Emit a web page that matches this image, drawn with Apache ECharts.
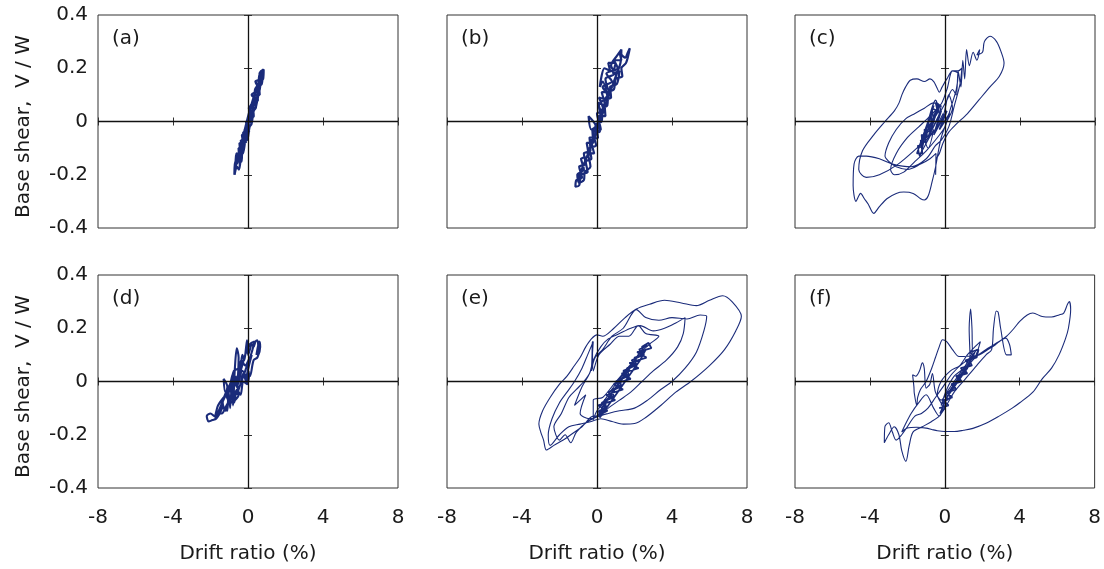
<!DOCTYPE html>
<html><head><meta charset="utf-8">
<script src="https://cdn.jsdelivr.net/npm/echarts@6/dist/echarts.min.js"></script>
<style>html,body{margin:0;padding:0;background:#fff}#c{width:1104px;height:569px}</style>
</head><body><div id="c"></div><script>
// Drift ratio (%) vs Base shear V/W
const xTicks = [-8, -4, 0, 4, 8];
const yTicks = [-0.4, -0.2, 0, 0.2, 0.4];
const panelLabels = ['(a)', '(b)', '(c)', '(d)', '(e)', '(f)'];
const xName = 'Drift ratio (%)';
const yName = 'Base shear,  V / W';

const dataA = [
[0,0],[0.25,0.03],[0.05,0.05],[0.45,0.08],[0.2,0.1],[0.6,0.12],[0.4,0.15],[0.75,0.16],[0.62,0.18],[0.83,0.195],[0.8,0.16],[0.58,0.15],[0.62,0.1],[0.35,0.1],[0.42,0.05],[0.12,0.05],[0.2,0.0],[-0.1,0.0],[-0.02,-0.05],[-0.32,-0.05],[-0.22,-0.1],[-0.5,-0.1],[-0.45,-0.15],[-0.68,-0.15],[-0.72,-0.2],[-0.6,-0.17],[-0.48,-0.18],[-0.35,-0.12],[-0.28,-0.12],[-0.12,-0.07],[-0.05,-0.07],[0.08,-0.02],[0.18,-0.01],[0.3,0.04],[0.4,0.05],[0.55,0.1],[0.62,0.12],[0.7,0.16],[0.78,0.18],[0.72,0.14],[0.5,0.13],[0.52,0.08],[0.25,0.07],[0.3,0.02],[0.02,0.01],[0.05,-0.04],[-0.25,-0.04],[-0.2,-0.09],[-0.45,-0.08],[-0.4,-0.13],[-0.62,-0.12],[-0.66,-0.17],[-0.5,-0.14],[-0.35,-0.15],[-0.3,-0.08],[-0.1,-0.06],[-0.08,-0.01],[0.12,0.0],[0.15,0.06],[0.32,0.07],[0.38,0.12],[0.55,0.14],[0.6,0.17],[0.7,0.19],[0.75,0.15],[0.6,0.14],[0.48,0.09],[0.3,0.08],[0.25,0.03],[0.05,0.02],[0.0,-0.03],[-0.18,-0.03],[-0.12,-0.08],[-0.38,-0.07],[-0.3,-0.12],[-0.55,-0.12],[-0.58,-0.16],[-0.45,-0.11],[-0.2,-0.04],[0.05,0.03],[0.3,0.09]
];
const dataB = [
[0,0],[0.3,0.02],[0.1,0.06],[0.55,0.1],[0.3,0.13],[0.8,0.15],[0.5,0.18],[1.1,0.2],[0.9,0.23],[1.3,0.23],[1.2,0.26],[1.5,0.24],[1.65,0.26],[1.75,0.275],[1.55,0.22],[1.3,0.2],[1.35,0.17],[1.0,0.16],[0.9,0.12],[0.6,0.11],[0.55,0.06],[0.3,0.05],[0.25,0.0],[-0.05,-0.01],[-0.1,-0.06],[-0.4,-0.06],[-0.35,-0.11],[-0.7,-0.12],[-0.6,-0.16],[-0.95,-0.17],[-0.8,-0.21],[-1.1,-0.22],[-1.15,-0.245],[-0.95,-0.24],[-0.85,-0.2],[-0.5,-0.19],[-0.6,-0.15],[-0.3,-0.14],[-0.4,-0.1],[-0.05,-0.09],[-0.2,-0.04],[0.2,-0.03],[0.0,0.03],[0.35,0.04],[0.1,0.09],[0.6,0.08],[0.3,0.15],[0.15,0.13],[0.4,0.2],[0.7,0.19],[0.6,0.22],[1.0,0.22],[0.85,0.18],[1.2,0.19],[1.05,0.14],[0.7,0.13],[0.75,0.09],[0.4,0.08],[0.45,0.02],[0.1,0.02],[0.15,-0.04],[-0.25,-0.03],[-0.2,-0.08],[-0.55,-0.08],[-0.45,-0.13],[-0.85,-0.14],[-0.7,-0.18],[-1.05,-0.2],[-0.95,-0.23],[-0.7,-0.22],[-0.65,-0.19],[-0.35,-0.17],[-0.5,-0.12],[-0.15,-0.12],[-0.3,-0.07],[0.05,-0.06],[-0.1,-0.01],[-0.45,0.02],[-0.3,-0.03],[0.2,0.01],[0.05,0.07],[0.45,0.06],[0.25,0.11],[0.65,0.11],[0.45,0.16],[0.95,0.18],[0.75,0.21],[1.1,0.25],[1.3,0.27],[1.25,0.22],[0.9,0.15],[0.5,0.07],[0.1,-0.01],[-0.3,-0.09],[-0.7,-0.16],[-1.0,-0.21]
];
const dataCcore = [
[0,0],[0.25,0.03],[-0.3,-0.03],[0.1,0.04],[-0.6,-0.05],[-0.2,0.04],[-0.9,-0.06],[-0.4,0.05],[-1.2,-0.08],[-0.6,0.06],[-1.4,-0.1],[-0.8,0.02],[-1.5,-0.12],[-1.2,-0.12],[-1.3,-0.07],[-1.0,-0.08],[-1.1,-0.03],[-0.8,-0.04],[-0.9,0.01],[-0.6,0.0],[-0.7,0.05],[-0.4,0.04],[-0.5,0.07],[-0.3,0.06],[-0.55,0.02],[-0.75,0.03],[-0.7,-0.02],[-1.0,-0.02],[-0.95,-0.06],[-1.25,-0.05],[-1.2,-0.1],[-1.45,-0.09],[-1.35,-0.13],[-1.0,-0.03],[-0.5,0.08],[-0.3,0.03]
];
const dataC = [
[-0.3,0.03],[0.1,0.08],[0.4,0.12],[0.6,0.1],[0.7,0.19],[0.85,0.13],[0.95,0.23],[1.05,0.16],[1.15,0.27],[1.3,0.21],[1.5,0.26],[1.7,0.23],[1.85,0.27],[1.7,0.25],[2.0,0.26],[2.1,0.3],[2.4,0.32],[2.75,0.3],[3.0,0.26],[3.15,0.22],[2.9,0.17],[2.4,0.13],[1.8,0.08],[1.2,0.03],[0.6,-0.01],[0.2,-0.04],[-0.1,-0.08],[-0.3,-0.12],[-0.45,-0.14],[-0.5,-0.2],[-0.48,-0.12],
[-0.8,-0.14],[-1.3,-0.16],[-2.0,-0.18],[-2.6,-0.17],[-3.0,-0.15],[-3.2,-0.13],[-3.0,-0.08],[-2.6,-0.03],[-2.1,0.01],[-1.6,0.03],[-1.1,0.05],[-0.6,0.07],[-0.3,0.06],[0.1,0.12],[0.4,0.19],[0.7,0.19],[0.9,0.2],[0.8,0.14],[0.5,0.06],[0.2,-0.02],[-0.2,-0.07],[-0.5,-0.09],
[-1.0,-0.14],[-1.8,-0.17],[-2.8,-0.16],[-3.5,-0.14],[-4.2,-0.13],[-4.6,-0.13],[-4.85,-0.16],[-4.9,-0.24],[-4.75,-0.3],[-4.5,-0.27],[-4.3,-0.29],[-4.1,-0.31],[-3.8,-0.345],[-3.5,-0.32],[-3.1,-0.29],[-2.6,-0.27],[-2.2,-0.265],[-1.7,-0.27],[-1.3,-0.29],[-1.1,-0.295],[-0.9,-0.28],[-0.7,-0.23],[-0.5,-0.17],[-0.35,-0.11],[-0.2,-0.06],[0.1,0.0],[0.4,0.05],[0.2,0.1],
[-0.1,0.02],[-0.6,-0.04],[-1.5,-0.1],[-2.5,-0.16],[-3.5,-0.2],[-4.2,-0.21],[-4.6,-0.18],[-4.4,-0.11],[-3.8,-0.05],[-3.2,0.0],[-2.7,0.04],[-2.45,0.07],[-2.3,0.1],[-2.1,0.13],[-1.85,0.155],[-1.5,0.16],[-1.1,0.15],[-0.8,0.16],[-0.6,0.15],[-0.45,0.13],[-0.3,0.11],[-0.15,0.13],[0.1,0.16],[0.4,0.19],[0.7,0.18],[0.6,0.12],[0.3,0.05],
[0,-0.02],[-0.4,-0.06],[-1.0,-0.11],[-1.6,-0.15],[-2.2,-0.19],[-2.7,-0.2],[-2.9,-0.18],[-2.6,-0.12],[-2.0,-0.06],[-1.4,-0.02],[-0.8,0.02],[-0.4,0.05],[-0.7,-0.02],[-1.1,-0.06],[-0.9,-0.1],[-0.6,-0.03],[-1.3,-0.12],[-0.8,-0.05],[-0.5,0.04],[-0.2,0.06],[-0.45,-0.02],[-0.1,0.03]
];
const dataD = [
[0,0],[-0.3,0.04],[-0.6,-0.02],[-0.8,0.03],[-1.0,-0.04],[-0.7,0.02],[-0.5,-0.05],[-0.95,-0.08],[-1.2,-0.05],[-1.45,-0.11],[-1.3,-0.06],[-1.6,-0.09],[-1.8,-0.13],[-2.0,-0.12],[-2.2,-0.13],[-2.1,-0.15],[-1.9,-0.145],[-1.7,-0.14],[-1.5,-0.12],[-1.35,-0.1],[-1.1,-0.11],[-1.05,-0.03],[-0.95,-0.1],[-0.85,0.02],[-0.8,-0.09],[-0.7,0.05],[-0.6,0.125],[-0.5,0.09],[-0.55,0.0],[-0.4,0.05],[-0.3,0.1],[-0.2,0.08],[-0.1,0.13],[-0.05,0.155],[0.0,0.1],[0.1,0.12],[0.2,0.14],[0.3,0.13],[0.4,0.15],[0.5,0.155],[0.55,0.12],[0.45,0.1],[0.6,0.15],[0.65,0.13],[0.5,0.09],[0.3,0.08],[0.1,0.02],[0.0,0.03],[-0.05,-0.01],[-0.25,0.0],[-0.4,-0.05],[-0.6,-0.03],[-0.75,-0.08],[-1.0,-0.07],[-1.2,-0.11],[-1.35,-0.08],[-1.1,-0.02],[-1.3,0.01],[-1.2,-0.04],[-0.9,0.0],[-0.75,0.04],[-0.5,0.05],[-0.35,0.08],[-0.15,0.06],[0.1,0.09],[0.2,0.1],[0.05,0.06],[-0.1,0.01],[0.0,0.04],[0.05,0.02],[-0.05,-0.01],[-0.25,0.03],[-0.45,-0.02],[-0.7,-0.04],[-0.9,-0.06],[-1.15,-0.09],[-1.4,-0.12],[-1.6,-0.12],[-1.75,-0.14],[-1.5,-0.1],[-1.25,-0.06],[-0.95,-0.02],[-0.65,0.01],[-0.4,0.04],[-0.15,0.1],[0.1,0.14],[0.35,0.15],[0.2,0.11],[-0.1,0.05],[-0.35,0.0],[-0.6,-0.05]
];
const dataEcore = [
[0.0,-0.13],[0.56,-0.11],[0.06,-0.09],[0.97,-0.07],[0.48,-0.05],[1.39,-0.03],[0.9,-0.01],[1.8,0.01],[1.31,0.03],[2.22,0.05],[1.73,0.07],[2.64,0.09],[2.14,0.11],[2.9,0.125],[2.75,0.145],
[2.4,0.13],[2.5,0.1],[2.0,0.09],[2.1,0.06],[1.6,0.05],[1.7,0.02],[1.2,0.01],[1.3,-0.02],[0.8,-0.03],[0.9,-0.06],[0.4,-0.07],[0.5,-0.1],[0.1,-0.11],[0.15,-0.135],
[0.3,-0.12],[0.7,-0.08],[1.1,-0.04],[1.5,0.0],[1.9,0.04],[2.3,0.08],[2.6,0.12],[2.3,0.11],[1.95,0.07],[1.55,0.03],[1.15,-0.01],[0.75,-0.05],[0.35,-0.09],[0.05,-0.13],
[0.45,-0.1],[0.25,-0.08],[0.85,-0.06],[0.6,-0.04],[1.25,-0.02],[1.0,0.0],[1.65,0.02],[1.4,0.04],[2.05,0.06],[1.85,0.08],[2.45,0.1],[2.25,0.12],[2.7,0.135]
];
const dataE = [
[0.05,-0.13],[-0.2,-0.13],[-0.8,-0.17],[-1.4,-0.2],[-1.8,-0.22],[-2.3,-0.24],[-2.7,-0.257],[-2.85,-0.22],[-3.0,-0.19],[-3.1,-0.16],[-2.9,-0.11],[-2.5,-0.06],[-2.0,-0.01],[-1.6,0.02],[-1.2,0.06],[-0.9,0.09],[-0.6,0.13],[-0.3,0.16],[0.0,0.175],[0.3,0.17],
[0.9,0.2],[1.5,0.24],[2.1,0.272],[2.8,0.29],[3.6,0.305],[4.5,0.295],[5.3,0.285],[6.0,0.305],[6.7,0.322],[7.2,0.3],[7.7,0.245],[7.4,0.19],[6.8,0.12],[6.0,0.06],[5.0,0.0],[4.2,-0.04],[3.4,-0.09],[2.6,-0.135],[2.0,-0.158],[1.4,-0.16],[0.8,-0.15],[0.2,-0.14],[-0.3,-0.15],
[-0.9,-0.16],[-1.5,-0.17],[-2.0,-0.2],[-2.5,-0.24],[-2.6,-0.2],[-2.4,-0.14],[-2.0,-0.08],[-1.6,-0.04],[-1.2,0.0],[-0.8,0.05],[-0.5,0.1],[-0.2,0.15],[-0.3,0.04],[-0.1,0.09],[0.3,0.12],
[0.8,0.17],[1.4,0.2],[2.1,0.27],[2.6,0.24],[3.3,0.23],[4.0,0.24],[4.8,0.235],[5.5,0.25],[5.85,0.245],[5.7,0.19],[5.3,0.11],[4.7,0.05],[4.0,0.0],[3.4,-0.03],[2.7,-0.07],[2.0,-0.1],[1.2,-0.11],[0.6,-0.12],[0.1,-0.13],
[-0.5,-0.15],[-1.1,-0.19],[-1.4,-0.23],[-1.7,-0.2],[-2.0,-0.22],[-2.3,-0.17],[-1.9,-0.12],[-1.5,-0.06],[-1.1,-0.03],[-0.7,0.0],[-0.4,0.03],[-0.2,0.08],[0.2,0.13],[0.6,0.16],
[1.2,0.18],[1.8,0.2],[2.3,0.21],[3.0,0.19],[3.6,0.2],[4.2,0.22],[4.7,0.24],[4.6,0.18],[4.3,0.13],[3.7,0.08],[3.0,0.04],[2.4,0.0],[1.8,-0.04],[1.2,-0.07],[0.6,-0.1],[0.1,-0.13],
[-0.4,-0.14],[-0.9,-0.12],[-0.6,-0.05],[-1.2,-0.09],[-0.8,-0.02],[-0.3,0.05],[-0.25,0.15],[-0.2,0.04],[0.1,0.1],[0.7,0.14],[1.2,0.17],[1.7,0.17],[2.2,0.21],[2.6,0.18],[3.3,0.17],[2.8,0.14],[2.2,0.1],[1.6,0.04],[1.0,-0.02],[0.5,-0.07],[0.0,-0.11],[-0.2,-0.144],[-0.2,-0.07],[0.3,-0.06],[0.9,-0.01],[1.5,0.04],[2.1,0.09],[2.6,0.14],[1.8,0.06],[1.2,0.01],[0.6,-0.05],[0.1,-0.1]
];
const dataFcore = [
[-0.3,-0.1],[0.2,-0.09],[-0.1,-0.07],[0.4,-0.06],[0.1,-0.04],[0.6,-0.03],[0.35,-0.01],[0.85,0.0],[0.6,0.02],[1.1,0.03],[0.85,0.05],[1.35,0.06],[1.1,0.08],[1.6,0.09],[1.35,0.11],[1.8,0.12],[1.7,0.09],[1.3,0.08],[1.45,0.06],[1.0,0.05],[1.2,0.03],[0.7,0.02],[0.9,0.0],[0.45,-0.01],[0.6,-0.03],[0.15,-0.04],[0.3,-0.06],[-0.1,-0.08],[0.0,-0.1],[-0.25,-0.12],
[0.1,-0.06],[0.5,-0.01],[0.9,0.03],[1.3,0.07],[1.6,0.11],[1.2,0.05],[0.8,0.01],[0.4,-0.03],[0.0,-0.07]
];
const dataF = [
[0.9,0.03],[1.35,0.08],[1.3,0.2],[1.38,0.272],[1.45,0.2],[1.5,0.1],[1.7,0.12],[1.2,0.07],[0.7,0.02],[0.2,-0.03],[-0.2,-0.07],
[-0.5,-0.04],[-0.66,0.03],[-0.8,-0.01],[-1.0,-0.025],[-1.1,0.05],[-1.2,0.07],[-1.35,0.04],[-1.55,0.02],[-1.72,0.025],[-1.65,-0.02],[-1.63,-0.044],[-1.5,-0.09],[-1.45,-0.06],[-1.3,-0.03],[-1.0,0.0],[-0.7,0.05],[-0.5,0.09],[-0.3,0.13],[-0.12,0.157],[0.1,0.15],[0.41,0.12],[0.76,0.094],[1.2,0.095],[1.83,0.1],[2.3,0.12],[2.7,0.138],[3.0,0.155],[3.25,0.163],[3.45,0.14],[3.55,0.1],[3.3,0.1],[2.98,0.2],[2.85,0.26],[2.75,0.265],[2.6,0.2],[2.5,0.12],[2.2,0.1],[1.7,0.06],[1.1,0.01],[0.5,-0.04],[0.0,-0.1],[-0.3,-0.13],
[-0.7,-0.15],[-1.2,-0.17],[-1.7,-0.19],[-1.9,-0.24],[-2.08,-0.3],[-2.3,-0.26],[-2.45,-0.2],[-2.7,-0.17],[-3.0,-0.2],[-3.23,-0.23],[-3.2,-0.17],[-3.0,-0.155],[-2.8,-0.19],[-2.6,-0.22],[-2.3,-0.2],[-2.0,-0.17],[-1.6,-0.13],[-1.25,-0.12],[-0.9,-0.1],
[-0.5,-0.06],[-0.1,-0.02],[0.4,0.03],[1.0,0.07],[1.65,0.094],[2.3,0.125],[2.9,0.15],[3.3,0.17],[3.7,0.2],[4.0,0.226],[4.4,0.25],[4.7,0.257],[5.2,0.244],[5.7,0.242],[6.1,0.25],[6.35,0.257],[6.55,0.29],[6.65,0.3],[6.72,0.27],[6.6,0.2],[6.44,0.16],[6.1,0.1],[5.7,0.05],[5.2,0.01],[4.7,-0.04],[4.0,-0.08],[3.6,-0.1],[2.9,-0.13],[2.2,-0.157],[1.5,-0.176],[1.0,-0.183],[0.5,-0.188],[0.0,-0.188],[-0.4,-0.185],[-0.7,-0.18],[-1.0,-0.175],[-1.5,-0.172],[-2.0,-0.175],[-2.3,-0.19],
[-2.1,-0.16],[-1.8,-0.12],[-1.4,-0.08],[-1.0,-0.05],[-0.6,-0.1],[-0.3,-0.13],[-0.1,-0.1],[-0.4,-0.05],[-0.2,0.0],[0.3,0.04],[0.8,0.06],[1.2,0.1],[1.6,0.13],[1.9,0.15],[1.6,0.09],[1.1,0.05],[0.6,0.0],[0.2,-0.05],[-0.2,-0.09],[0.1,-0.03],[0.5,0.02],[1.0,0.05],[1.4,0.1],[0.9,0.03],[0.4,-0.02],[0,-0.06]
];

// per panel: list of [data, lineWidth, smooth]
const panelSeries = [
  [[dataA, 2.4, 0.3]],
  [[dataB, 2.2, 0.3]],
  [[dataC, 1.1, 0.3], [dataCcore, 1.6, 0.3]],
  [[dataD, 2.1, 0.3]],
  [[dataE, 1.1, 0.3], [dataEcore, 1.8, false]],
  [[dataF, 1.1, 0.3], [dataFcore, 1.7, false]]
];

const FONT = 'DejaVu Sans';
const TXT = '#1a1a1a';
const LINE = '#1a2b7a';
const pos = [[98,15],[447,15],[795,15],[98,275],[447,275],[795,275]];
const W = 300, H = 213;

const grid = [], xAxis = [], yAxis = [], series = [], graphic = [];
panelSeries.forEach((list, i) => {
  const [l, t] = pos[i];
  const row = Math.floor(i / 3), col = i % 3;
  grid.push({left: l, top: t, width: W, height: H, show: true, borderColor: '#333', borderWidth: 1});
  const tick = {show: true, inside: true, length: 4, lineStyle: {color: '#333', width: 1}};
  const xBase = {type: 'value', gridIndex: i, min: xTicks[0], max: xTicks[xTicks.length-1], interval: 4,
    axisLine: {show: false}, axisTick: tick, splitLine: {show: false}};
  const yBase = {type: 'value', gridIndex: i, min: yTicks[0], max: yTicks[yTicks.length-1], interval: 0.2,
    axisLine: {show: false}, axisTick: tick, splitLine: {show: false}};
  xAxis.push(Object.assign({}, xBase, {position: 'bottom',
    axisLabel: {show: row === 1, fontSize: 20, fontFamily: FONT, color: TXT, margin: 20},
    name: row === 1 ? xName : '', nameLocation: 'middle', nameGap: 56,
    nameTextStyle: {fontSize: 20, fontFamily: FONT, color: TXT}}));
  xAxis.push(Object.assign({}, xBase, {position: 'top', axisLabel: {show: false}}));
  yAxis.push(Object.assign({}, yBase, {position: 'left',
    axisLabel: {show: col === 0, fontSize: 20, fontFamily: FONT, color: TXT, margin: 10},
    name: col === 0 ? yName : '', nameLocation: 'middle', nameGap: 64,
    nameTextStyle: {fontSize: 20, fontFamily: FONT, color: TXT, padding: [0, 10, 0, 0]}}));
  yAxis.push(Object.assign({}, yBase, {position: 'right', axisLabel: {show: false}}));
  list.forEach(([d, w, sm], k) => {
    const s = {
      type: 'line', xAxisIndex: 2*i, yAxisIndex: 2*i, data: d,
      showSymbol: false, symbol: 'none', smooth: sm,
      lineStyle: {color: LINE, width: w}
    };
    if (k === 0) {
      s.markLine = {silent: true, symbol: ['none','none'], label: {show: false},
        lineStyle: {color: '#111', type: 'solid', width: 1.3},
        data: [{xAxis: 0}, {yAxis: 0}]};
    }
    series.push(s);
  });
  graphic.push({type: 'text', left: l + 14, top: t + 14,
    style: {text: panelLabels[i], font: '20px "DejaVu Sans"', fill: TXT}});
});

const chart = echarts.init(document.getElementById('c'));
chart.setOption({animation: false, backgroundColor: '#fff', grid, xAxis, yAxis, series, graphic});
</script></body></html>
